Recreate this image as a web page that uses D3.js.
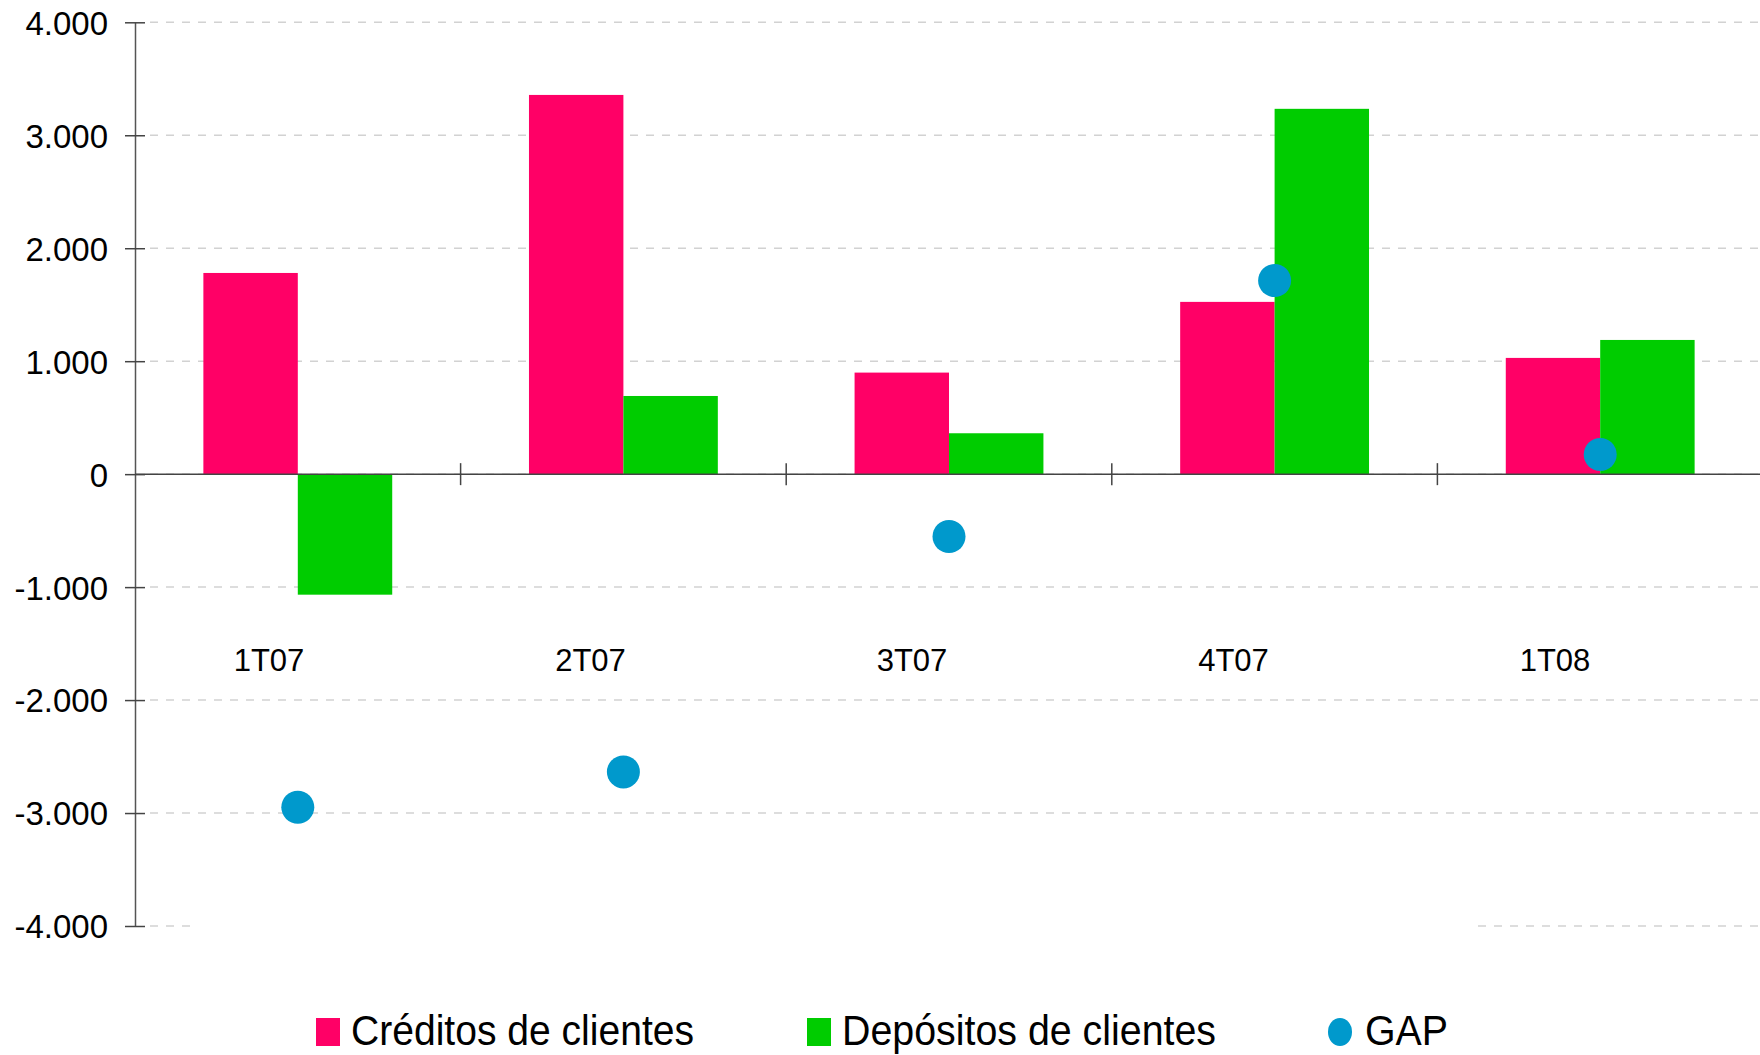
<!DOCTYPE html>
<html>
<head>
<meta charset="utf-8">
<script src="https://cdn.jsdelivr.net/npm/d3@7"></script>
<style>
  html, body { margin: 0; padding: 0; background: #fff; }
  svg { display: block; font-family: "Liberation Sans", Arial, sans-serif; }
</style>
</head>
<body>
<svg id="chart"></svg>
<script>
// Données
const trimestres = ["1T07", "2T07", "3T07", "4T07", "1T08"];
const series = ["Créditos de clientes", "Depósitos de clientes"];
const creditos = [1781, 3357, 899, 1525, 1029];
const depositos = [-1067, 692, 362, 3234, 1188];
const gap = [-2949, -2636, -552, 1714, 174];
const yTicks = [4000, 3000, 2000, 1000, 0, -1000, -2000, -3000, -4000];

const colors = { "Créditos de clientes": "#ff0066", "Depósitos de clientes": "#00cc00", GAP: "#0099cc" };

const width = 1760;
const height = 1055;

const svg = d3.select("#chart")
  .attr("width", width)
  .attr("height", height);

const left = 135;
const bandW = 325.6;

const x0 = d3.scaleBand()
  .domain(trimestres)
  .range([left, left + bandW * trimestres.length]);

const x1 = d3.scaleBand()
  .domain(series)
  .range([x0.bandwidth() * 0.21, x0.bandwidth() * 0.79]);

const y = d3.scaleLinear()
  .domain([-4000, 4000])
  .range([926, 22.3]);

// format avec point comme séparateur de milliers
const fmt = d3.formatLocale({ decimal: ",", thousands: ".", grouping: [3], currency: ["", "€"], minus: "-" }).format(",d");

// grille pointillée
svg.append("g")
  .selectAll("line")
  .data(yTicks)
  .join("line")
  .attr("x1", 150)
  .attr("x2", width)
  .attr("y1", d => y(d))
  .attr("y2", d => y(d))
  .attr("stroke", "#d2d2d2")
  .attr("stroke-width", 1.5)
  .attr("stroke-dasharray", "8,8");

// cache blanc du bas (fond de la légende)
svg.append("rect")
  .attr("x", 190)
  .attr("y", 905)
  .attr("width", 1280)
  .attr("height", 150)
  .attr("fill", "#fff");

// barres
const rows = trimestres.map((t, i) => ({ t: t, vals: [creditos[i], depositos[i]] }));

svg.append("g")
  .selectAll("g")
  .data(rows)
  .join("g")
  .attr("transform", d => `translate(${x0(d.t)},0)`)
  .selectAll("rect")
  .data(d => d.vals.map((v, k) => ({ s: series[k], v: v })))
  .join("rect")
  .attr("x", d => x1(d.s))
  .attr("width", x1.bandwidth())
  .attr("y", d => y(Math.max(0, d.v)))
  .attr("height", d => Math.abs(y(d.v) - y(0)))
  .attr("fill", d => colors[d.s]);

// axe Y
const yAxis = d3.axisLeft(y)
  .tickValues(yTicks)
  .tickSize(0)
  .tickFormat(fmt);

const gy = svg.append("g")
  .attr("transform", `translate(${left},0)`)
  .call(yAxis);
gy.select(".domain").attr("stroke", "#555").attr("stroke-width", 1.5);
gy.selectAll(".tick text")
  .attr("x", -27)
  .attr("dy", "0.36em")
  .attr("font-size", 33)
  .attr("font-family", "Liberation Sans, Arial, sans-serif")
  .attr("fill", "#000");
gy.selectAll(".tick")
  .append("line")
  .attr("x1", -10)
  .attr("x2", 10)
  .attr("stroke", "#444")
  .attr("stroke-width", 1.5);

// axe X au niveau de 0
svg.append("line")
  .attr("x1", left)
  .attr("x2", width)
  .attr("y1", y(0))
  .attr("y2", y(0))
  .attr("stroke", "#444")
  .attr("stroke-width", 1.5);

svg.append("g")
  .selectAll("line")
  .data(trimestres.slice(1))
  .join("line")
  .attr("x1", d => x0(d))
  .attr("x2", d => x0(d))
  .attr("y1", y(0) - 11)
  .attr("y2", y(0) + 11)
  .attr("stroke", "#444")
  .attr("stroke-width", 1.5);

// étiquettes des trimestres
const xLab = d3.scalePoint()
  .domain(trimestres)
  .range([269, 1555]);

svg.append("g")
  .selectAll("text")
  .data(trimestres)
  .join("text")
  .attr("x", d => xLab(d))
  .attr("y", 671)
  .attr("text-anchor", "middle")
  .attr("font-size", 31)
  .attr("fill", "#000")
  .text(d => d);

// points GAP
svg.append("g")
  .selectAll("circle")
  .data(trimestres.map((t, i) => ({ t: t, v: gap[i] })))
  .join("circle")
  .attr("cx", d => x0(d.t) + x0.bandwidth() / 2)
  .attr("cy", d => y(d.v))
  .attr("r", 16.5)
  .attr("fill", colors.GAP);

// légende
const legend = [
  { label: "Créditos de clientes", type: "rect", mx: 316, tx: 351, tw: 343 },
  { label: "Depósitos de clientes", type: "rect", mx: 807, tx: 842, tw: 374 },
  { label: "GAP", type: "dot", mx: 1328, tx: 1365, tw: 83 }
];
const lg = svg.append("g");
legend.forEach(l => {
  const c = l.label === "GAP" ? colors.GAP : colors[l.label];
  if (l.type === "rect") {
    lg.append("rect")
      .attr("x", l.mx).attr("y", 1018)
      .attr("width", 24).attr("height", 28)
      .attr("fill", c);
  } else {
    lg.append("ellipse")
      .attr("cx", l.mx + 12).attr("cy", 1032)
      .attr("rx", 12).attr("ry", 14)
      .attr("fill", c);
  }
  lg.append("text")
    .attr("x", l.tx)
    .attr("y", 1045)
    .attr("font-size", 43)
    .attr("textLength", l.tw)
    .attr("lengthAdjust", "spacingAndGlyphs")
    .attr("fill", "#000")
    .text(l.label);
});
</script>
</body>
</html>
